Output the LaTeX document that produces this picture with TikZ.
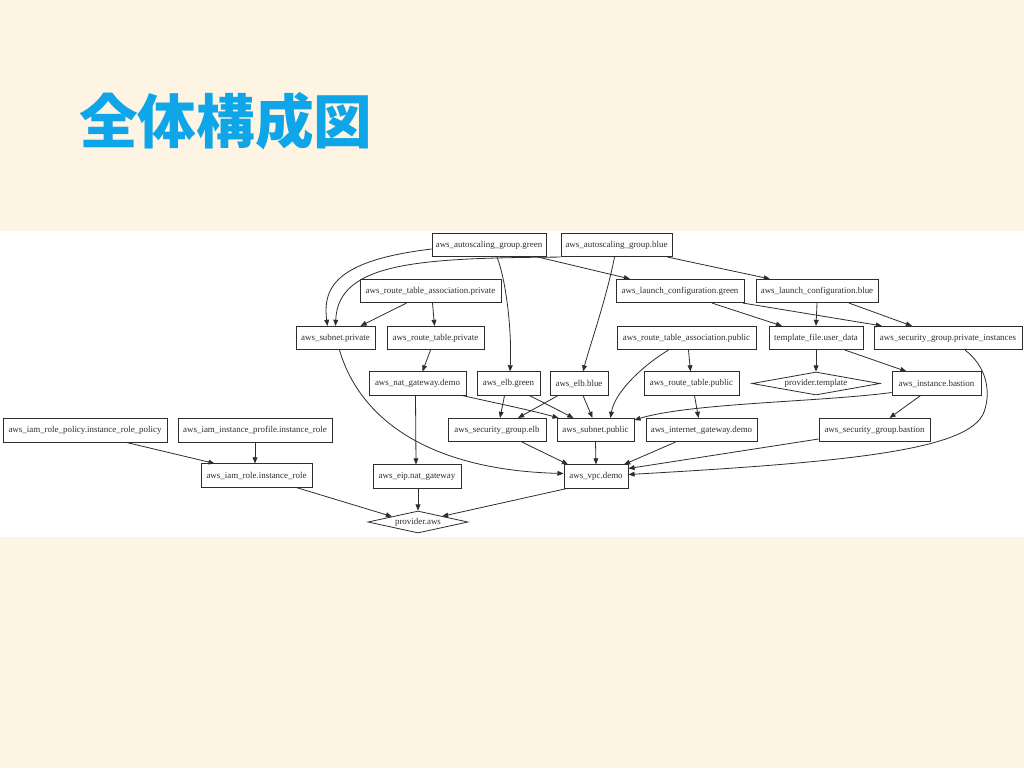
\documentclass[tikz,border=0pt]{standalone}
\usepackage{fontspec}
\setmainfont{Liberation Serif}
\newfontfamily\cjk{Noto Sans CJK JP}
\usetikzlibrary{arrows.meta,shapes.geometric,calc}
\definecolor{cream}{RGB}{253,244,227}
\definecolor{titleblue}{RGB}{14,165,233}
\definecolor{ink}{RGB}{45,45,45}
\begin{document}
\begin{tikzpicture}[x=0.75pt,y=-0.75pt,
  box/.style={draw=ink, line width=0.6pt, rectangle, inner sep=0pt, minimum height=17.5pt,
    font=\fontsize{6.7}{8}\selectfont, text=ink},
  dia/.style={draw=ink, line width=0.6pt, diamond, aspect=5.5, inner sep=0pt,
    font=\fontsize{6.7}{8}\selectfont, text=ink},
  w/.style={minimum width=#1},
  edge/.style={draw=ink, line width=0.6pt, -{Triangle[length=4.6pt,width=3.6pt]}}]
\useasboundingbox (0,0) rectangle (1024,768);
\fill[cream] (0,0) rectangle (1024,768);
\fill[white] (0,231) rectangle (1024,537);
\node[anchor=base west, inner sep=0pt, font=\cjk\bfseries\fontsize{44}{50}\selectfont, text=titleblue] (title) at (79,143) {全体構成図};

% row 1
\node[box,w=85.5pt] (asgg) at (489,245) {aws\_autoscaling\_group.green};
\node[box,w=83.25pt] (asgb) at (616.5,245) {aws\_autoscaling\_group.blue};
% row 2
\node[box,w=105.75pt] (rtapriv) at (430.5,291) {aws\_route\_table\_association.private};
\node[box,w=96pt] (lcg) at (680,291) {aws\_launch\_configuration.green};
\node[box,w=91.5pt] (lcb) at (817,291) {aws\_launch\_configuration.blue};
% row 3
\node[box,w=59.25pt] (subpriv) at (335.5,338) {aws\_subnet.private};
\node[box,w=72.75pt] (rtpriv) at (435.5,338) {aws\_route\_table.private};
\node[box,w=104.25pt] (rtapub) at (686.5,338) {aws\_route\_table\_association.public};
\node[box,w=70.5pt] (tmpl) at (816,338) {template\_file.user\_data};
\node[box,w=111pt] (sgpi) at (948,338) {aws\_security\_group.private\_instances};
% row 4
\node[box,w=72.75pt] (nat) at (417.5,383.5) {aws\_nat\_gateway.demo};
\node[box,w=47.25pt] (elbg) at (508.5,383.5) {aws\_elb.green};
\node[box,w=43.5pt] (elbb) at (579,383.5) {aws\_elb.blue};
\node[box,w=71.25pt] (rtpub) at (691.5,383.5) {aws\_route\_table.public};
\node[dia,minimum width=96pt,minimum height=17.25pt] (ptmpl) at (816,383.5) {provider.template};
\node[box,w=66.75pt] (bast) at (936.5,383.5) {aws\_instance.bastion};
% row 5
\node[box,w=123pt] (iampol) at (85,430.5) {aws\_iam\_role\_policy.instance\_role\_policy};
\node[box,w=115.5pt] (iamprof) at (255,430.5) {aws\_iam\_instance\_profile.instance\_role};
\node[box,w=73.5pt] (sgelb) at (497,430) {aws\_security\_group.elb};
\node[box,w=57.75pt] (subpub) at (595.5,430) {aws\_subnet.public};
\node[box,w=83.25pt] (igw) at (701.5,430) {aws\_internet\_gateway.demo};
\node[box,w=83.25pt] (sgbast) at (874.5,430) {aws\_security\_group.bastion};
% row 6
\node[box,w=83.25pt] (iamrole) at (256.5,475.5) {aws\_iam\_role.instance\_role};
\node[box,w=66pt] (eip) at (417,476.5) {aws\_eip.nat\_gateway};
\node[box,w=48pt] (vpc) at (596,476.5) {aws\_vpc.demo};
% row 7
\node[dia,minimum width=75pt,minimum height=16.5pt] (paws) at (418,522) {provider.aws};

% edges
\draw[edge] ($(asgg.west)+(0,4)$) .. controls (340,260) and (322,285) .. ($(subpriv.north)+(-8,0)$);
\draw[edge] (asgb.south west) .. controls (420,258) and (338,262) .. (subpriv.north);
\draw[edge] ($(asgg.south)+(49,0)$) -- ($(lcg.north)+(-50,0)$);
\draw[edge] ($(asgg.south)+(8,0)$) .. controls (506,280) and (512,330) .. ($(elbg.north)+(1.5,0)$);
\draw[edge] ($(asgb.south)+(51,0)$) -- ($(lcb.north)+(-47,0)$);
\draw[edge] ($(asgb.south)+(-2,0)$) .. controls (606,300) and (590,345) .. ($(elbb.north)+(4,0)$);
\draw[edge] ($(rtapriv.south)+(-24,0)$) -- ($(subpriv.north)+(25,0)$);
\draw[edge] ($(rtapriv.south)+(2,0)$) -- ($(rtpriv.north)+(-1,0)$);
\draw[edge] ($(lcg.south)+(32,0)$) -- ($(tmpl.north)+(-34,0)$);
\draw[edge] ($(lcg.south)+(63,0)$) -- ($(sgpi.north)+(-66,0)$);
\draw[edge] (lcb.south) -- (tmpl.north);
\draw[edge] ($(lcb.south)+(32,0)$) -- ($(sgpi.north)+(-36,0)$);
\draw[edge] ($(rtapub.south)+(2,0)$) -- ($(rtpub.north)+(-1,0)$);
\draw[edge] ($(rtapub.south)+(-18,0)$) .. controls (648,362) and (615,390) .. ($(subpub.north)+(15,0)$);
\draw[edge] (tmpl.south) -- (ptmpl.north);
\draw[edge] ($(tmpl.south)+(29,0)$) -- ($(bast.north)+(-30,0)$);
\draw[edge] ($(sgpi.south)+(17,0)$) .. controls (985,365) and (992,390) .. (984,412)
  .. controls (970,450) and (850,462) .. ($(vpc.east)+(0,-2)$);
\draw[edge] ($(rtpriv.south)+(-5,0)$) -- ($(nat.north)+(5,0)$);
\draw[edge] ($(subpriv.south)+(4,0)$) .. controls (360,420) and (430,470) .. ($(vpc.west)+(0,-3)$);
\draw[edge] ($(nat.south)+(45,0)$) .. controls (500,404) and (530,410) .. ($(subpub.north west)+(2,0)$);
\draw[edge] ($(nat.south)+(-2,0)$) -- ($(eip.north)+(-1,0)$);
\draw[edge] ($(elbg.south)+(-4,0)$) -- ($(sgelb.north)+(3,0)$);
\draw[edge] ($(elbg.south)+(21,0)$) -- ($(subpub.north)+(-22,0)$);
\draw[edge] ($(elbb.south)+(-21,0)$) -- ($(sgelb.north)+(21,0)$);
\draw[edge] ($(elbb.south)+(4,0)$) -- ($(subpub.north)+(-3,0)$);
\draw[edge] ($(rtpub.south)+(3,0)$) -- ($(igw.north)+(-3,0)$);
\draw[edge] ($(bast.west)+(0,9)$) .. controls (820,402) and (690,403) .. ($(subpub.east)+(0,-10)$);
\draw[edge] ($(bast.south)+(-16,0)$) -- ($(sgbast.north)+(15,0)$);
\draw[edge] ($(sgelb.south)+(25,0)$) -- ($(vpc.north)+(-28,0)$);
\draw[edge] (subpub.south) -- (vpc.north);
\draw[edge] ($(igw.south)+(-26,0)$) -- ($(vpc.north)+(28,0)$);
\draw[edge] ($(sgbast.west)+(0,9)$) -- ($(vpc.east)+(0,-8)$);
\draw[edge] ($(iampol.south)+(42,0)$) -- ($(iamrole.north)+(-42,0)$);
\draw[edge] (iamprof.south) -- ($(iamrole.north)+(-1.5,0)$);
\draw[edge] ($(iamrole.south)+(40,0)$) -- ($(paws.center)+(-26,-5.5)$);
\draw[edge] ($(eip.south)+(1,0)$) -- (paws.north);
\draw[edge] ($(vpc.south west)+(3,0)$) -- ($(paws.center)+(24,-5.7)$);
\end{tikzpicture}
\end{document}
